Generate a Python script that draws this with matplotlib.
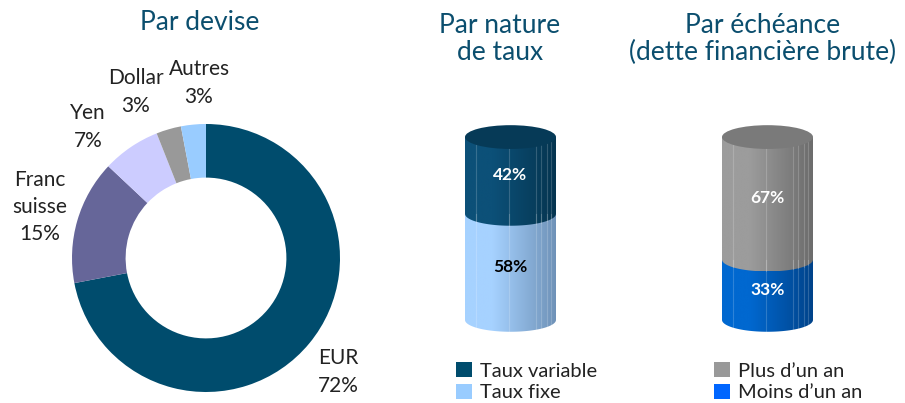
import matplotlib

matplotlib.use("Agg")

import matplotlib.pyplot as plt
import numpy as np
from matplotlib.colors import LinearSegmentedColormap
from matplotlib.patches import Ellipse, Patch, PathPatch
from matplotlib.path import Path

plt.rcParams["font.family"] = ["Lato", "DejaVu Sans"]

W, H = 905, 403
TITLE_COLOR = "#0B4E6E"
TEXT_COLOR = "#222222"

# Par devise
devise_labels = ["EUR", "Franc\nsuisse", "Yen", "Dollar", "Autres"]
devise_values = [72, 15, 7, 3, 3]
devise_colors = ["#004C6D", "#666699", "#CCCCFF", "#999999", "#99CCFF"]

# Par nature de taux (de bas en haut)
taux_labels = ["Taux fixe", "Taux variable"]
taux_values = [58, 42]

# Par échéance (de bas en haut)
echeance_labels = ["Moins d\u2019un an", "Plus d\u2019un an"]
echeance_values = [33, 67]


def px(x, y):
    return x / W, 1 - y / H


def draw_cylinder(ax, values, shades, top_color, text_colors, eh=13.0):
    bottom = 0.0
    for v, (c_light, c_dark), tc in zip(values, shades, text_colors):
        top = bottom + v
        theta = np.linspace(np.pi, 2 * np.pi, 60)
        arc = np.column_stack([0.5 * np.cos(theta), bottom + eh / 2 * np.sin(theta)])
        verts = np.vstack([[-0.5, top], arc, [0.5, top], [-0.5, top]])
        codes = [Path.MOVETO] + [Path.LINETO] * (len(verts) - 2) + [Path.CLOSEPOLY]
        patch = PathPatch(Path(verts, codes), facecolor="none", edgecolor="none")
        ax.add_patch(patch)
        cmap = LinearSegmentedColormap.from_list(
            "cyl", [(0, c_light), (0.3, c_light), (1, c_dark)]
        )
        grad = np.linspace(0, 1, 256).reshape(1, -1)
        im = ax.imshow(grad, extent=(-0.5, 0.5, bottom - eh / 2, top),
                       aspect="auto", cmap=cmap, zorder=2)
        im.set_clip_path(patch)
        # faint facet lines
        for xl in [-0.38, -0.02, 0.28, 0.34, 0.40, 0.45]:
            ax.plot([xl, xl], [bottom - eh / 2 * np.sqrt(1 - (2 * xl) ** 2), top],
                    color="white", alpha=0.18, lw=0.8, zorder=3)
        ax.text(0, bottom + v / 2, f"{v}%", ha="center", va="center",
                color=tc, fontsize=12.5, fontweight="bold", zorder=5)
        bottom = top
    ax.add_patch(Ellipse((0, bottom), 1.0, eh, facecolor=top_color,
                         edgecolor="none", zorder=4))
    ax.set_xlim(-0.5, 0.5)
    ax.set_ylim(-11, 114.8)
    ax.axis("off")


fig = plt.figure(figsize=(W / 100, H / 100), dpi=100)

# Donut
cx, cy, r = 206, 258, 134
ax_pie = fig.add_axes([(cx - r) / W, (H - cy - r) / H, 2 * r / W, 2 * r / H])
ax_pie.pie(devise_values, colors=devise_colors, startangle=90, counterclock=False,
           radius=1.0, wedgeprops=dict(width=0.4, edgecolor="none"))
ax_pie.set_xlim(-1, 1)
ax_pie.set_ylim(-1, 1)
ax_pie.set_aspect("auto")
ax_pie.axis("off")

label_pos = [(338, 372), (40, 207), (88, 127), (136, 92), (199, 83)]
for lab, val, (lx, ly) in zip(devise_labels, devise_values, label_pos):
    fig.text(*px(lx, ly), f"{lab}\n{val}%", ha="center", va="center",
             fontsize=15, color=TEXT_COLOR, linespacing=1.45)

# Cylinders
ax_c1 = fig.add_axes([465 / W, (H - 340) / H, 91 / W, 230 / H])
draw_cylinder(ax_c1, taux_values,
              [("#A6D2FF", "#6F92B8"), ("#0C5078", "#053550")],
              "#063A57", ["black", "white"])

ax_c2 = fig.add_axes([722 / W, (H - 340) / H, 91 / W, 230 / H])
draw_cylinder(ax_c2, echeance_values,
              [("#0068D0", "#00438A"), ("#9C9C9C", "#6C6C6C")],
              "#7A7A7A", ["white", "white"])

# Titles
fig.text(*px(200, 22), "Par devise", ha="center", va="center",
         fontsize=19, color=TITLE_COLOR)
fig.text(*px(500, 39), "Par nature\nde taux", ha="center", va="center",
         fontsize=19, color=TITLE_COLOR, linespacing=1.1)
fig.text(*px(763, 39), "Par échéance\n(dette financière brute)", ha="center",
         va="center", fontsize=19, color=TITLE_COLOR, linespacing=1.1)

# Legends
leg_kw = dict(frameon=False, fontsize=14.5, handlelength=0.8, handleheight=0.8,
              handletextpad=0.4, labelspacing=0.2, borderpad=0, loc="upper left")
for labels, colors, x0 in [
    (["Taux variable", "Taux fixe"], ["#004C6D", "#99CCFF"], 446),
    (["Plus d\u2019un an", "Moins d\u2019un an"], ["#999999", "#0066FF"], 704),
]:
    handles = [Patch(facecolor=c, edgecolor="none", label=l) for l, c in zip(labels, colors)]
    leg = fig.legend(handles=handles, bbox_to_anchor=px(x0, 352), **leg_kw)
    for t in leg.get_texts():
        t.set_color(TEXT_COLOR)

fig.savefig("out.png", dpi=100)
